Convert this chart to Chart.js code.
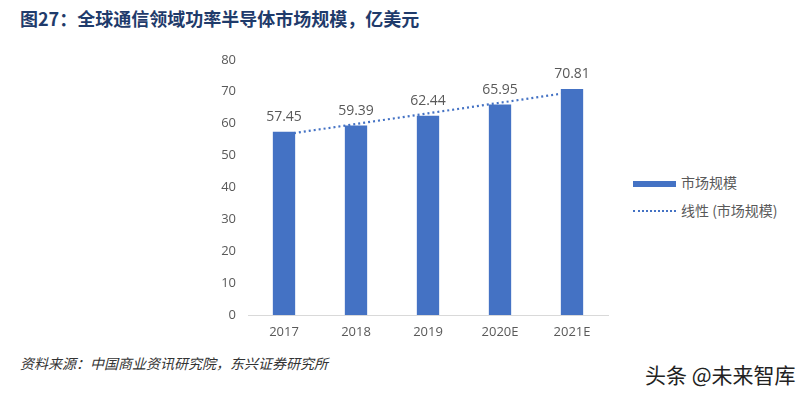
<!DOCTYPE html>
<html>
<head>
<meta charset="utf-8">
<script src="https://cdn.jsdelivr.net/npm/chart.js@4.4.0/dist/chart.umd.min.js"></script>
<style>
  body { margin: 0; background: #fff; width: 807px; height: 393px; position: relative; overflow: hidden;
         font-family: "Noto Sans CJK SC", "Open Sans", sans-serif; }
  #title { position: absolute; left: 20px; top: 5px; font-size: 18px; font-weight: bold; color: #1f3b6b; white-space: nowrap; }
  #wrap { position: absolute; left: 190px; top: 40px; width: 430px; height: 305px; }
  .leg { position: absolute; left: 633px; font-size: 14px; color: #595959; white-space: nowrap; }
  .leg span.box { position: absolute; left: 0; width: 43px; }
  .leg span.txt { position: absolute; left: 48px; top: 0; }
  #source { position: absolute; left: 20px; top: 353px; font-size: 14px; font-style: italic; color: #333; white-space: nowrap; }
  #mark { position: absolute; left: 645px; top: 359px; font-size: 21px; color: #222; white-space: nowrap; }
</style>
</head>
<body>
<div id="title">图27：全球通信领域功率半导体市场规模，亿美元</div>
<div id="wrap"><canvas id="graph"></canvas></div>
<div class="leg" style="top:172px;"><span class="box" style="top:9px;height:6px;background:#4472c4;"></span><span class="txt">市场规模</span></div>
<div class="leg" style="top:200px;"><span class="box" style="top:10px;height:0;border-top:2px dotted #4472c4;"></span><span class="txt">线性 (市场规模)</span></div>
<div id="source">资料来源：中国商业资讯研究院，东兴证券研究所</div>
<div id="mark">头条 @未来智库</div>
<script>
// ------------ data -----------------------
var years = ["2017", "2018", "2019", "2020E", "2021E"];
var marketSize = [57.45, 59.39, 62.44, 65.95, 70.81];
var trendValues = [56.55, 59.88, 63.21, 66.54, 69.86];
var yTicks = [0, 10, 20, 30, 40, 50, 60, 70, 80];

var tickFont = { family: "'Open Sans', 'Noto Sans CJK SC', sans-serif", size: 13 };

// ------------ value labels --------------
var valueLabels = {
  id: "valueLabels",
  afterDatasetsDraw: function (chart) {
    var ctx = chart.ctx;
    var meta = chart.getDatasetMeta(1);
    ctx.save();
    ctx.font = "14px 'Open Sans', sans-serif";
    ctx.fillStyle = "#595959";
    ctx.textAlign = "center";
    ctx.textBaseline = "bottom";
    meta.data.forEach(function (bar, i) {
      ctx.fillText(marketSize[i].toFixed(2), bar.x, bar.y - 8);
    });
    ctx.restore();
  }
};

// ------------ chart ---------------------
var myChart = new Chart(document.getElementById("graph"), {
  type: "bar",
  data: {
    labels: years,
    datasets: [
      {
        type: "line",
        label: "线性 (市场规模)",
        data: trendValues,
        borderColor: "#4472c4",
        borderWidth: 2.2,
        borderDash: [2, 3],
        pointRadius: 0,
        fill: false,
        order: 2
      },
      {
        label: "市场规模",
        data: marketSize,
        backgroundColor: "#4472c4",
        barPercentage: 0.31,
        categoryPercentage: 1,
        order: 1
      }
    ]
  },
  options: {
    responsive: true,
    maintainAspectRatio: false,
    animation: false,
    layout: { padding: { top: 19, right: 12, left: 0, bottom: 0 } },
    plugins: { legend: { display: false }, tooltip: { enabled: false } },
    scales: {
      x: {
        grid: { display: false, drawTicks: false },
        border: { color: "#d9d9d9", width: 1 },
        ticks: { color: "#595959", font: tickFont, padding: 9 },
        afterFit: function (s) { s.height = 30; }
      },
      y: {
        min: 0,
        max: 80,
        grid: { display: false, drawTicks: false },
        border: { display: false },
        afterBuildTicks: function (s) { s.ticks = yTicks.map(function (v) { return { value: v }; }); },
        ticks: { color: "#595959", font: tickFont, padding: 12 },
        afterFit: function (s) { s.width = 58; }
      }
    }
  },
  plugins: [valueLabels]
});
</script>
</body>
</html>
